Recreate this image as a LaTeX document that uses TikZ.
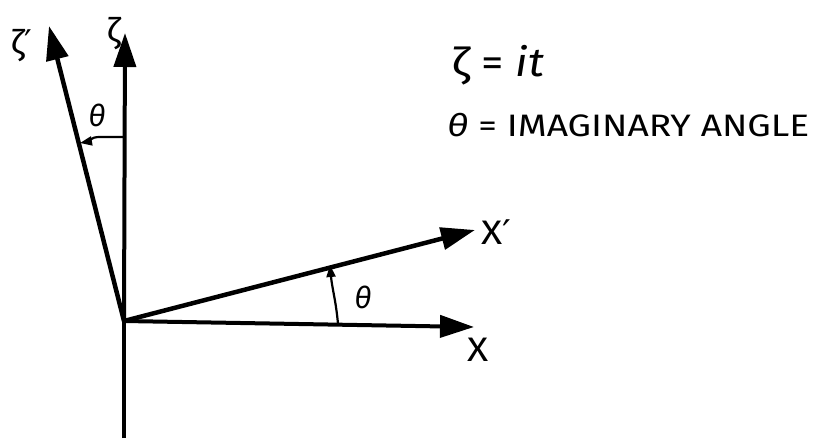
\documentclass[tikz,border=0pt]{standalone}
\usepackage{fontspec}
\setmainfont{Fira Sans}
\newfontfamily\dvfont{DejaVu Sans}
\usetikzlibrary{arrows.meta}
\newcommand{\prm}{{\dvfont ′}}
\begin{document}
\begin{tikzpicture}[x=1pt,y=-1pt,
  axis/.style={line width=4pt,-{Triangle[length=34pt,width=22pt]}},
  axisline/.style={line width=4pt},
  arcarrow/.style={line width=2.2pt,-{Triangle[length=12pt,width=9pt]}},
  lbl/.style={inner sep=0pt,font=\fontsize{34}{38}\selectfont}]
\useasboundingbox (0,0) rectangle (814,442);
\coordinate (O) at (124,321);
\coordinate (B) at (124,438);
\coordinate (Z) at (125,33);
\coordinate (Zp) at (49,26);
\coordinate (X) at (474,327);
\coordinate (Xp) at (475,230);
\draw[axisline] (B) -- (O);
\draw[axis] (O) -- (Z);
\draw[axis,line width=4.5pt] (O) -- (Zp);
\draw[axis] (O) -- (X);
\draw[axis,line width=4.5pt] (O) -- (Xp);
% arcs
\coordinate (a1) at (125,137);
\coordinate (a2) at (80,143);
\draw[arcarrow] (a1) -- (99,137) to[out=180,in=10] (a2);
\coordinate (b1) at (338,324);
\coordinate (b2) at (330,265);
\draw[arcarrow] (b1) to[out=95,in=-85] (b2);
% labels
\node[lbl] (lz) at (114,34) {ζ};
\node[lbl] (lzp) at (22,46) {ζ\prm};
\node[lbl,font=\fontsize{30}{34}\selectfont\itshape] (lt1) at (97,115) {θ};
\node[lbl,font=\fontsize{30}{34}\selectfont\itshape] (lt2) at (363,297) {θ};
\node[lbl,xscale=1.15] (lx) at (478,350) {X};
\node[lbl,xscale=1.15] (lxp) at (496,232) {X\prm};
\node[lbl,anchor=west,xscale=1.12,font=\fontsize{40}{44}\selectfont] (eq1) at (452,65) {ζ = \textit{it}};
\node[lbl,anchor=west,xscale=1.2,font=\fontsize{31}{33}\selectfont] (eq2) at (447,125) {\textit{θ} = IMAGINARY ANGLE};
\end{tikzpicture}
\end{document}
